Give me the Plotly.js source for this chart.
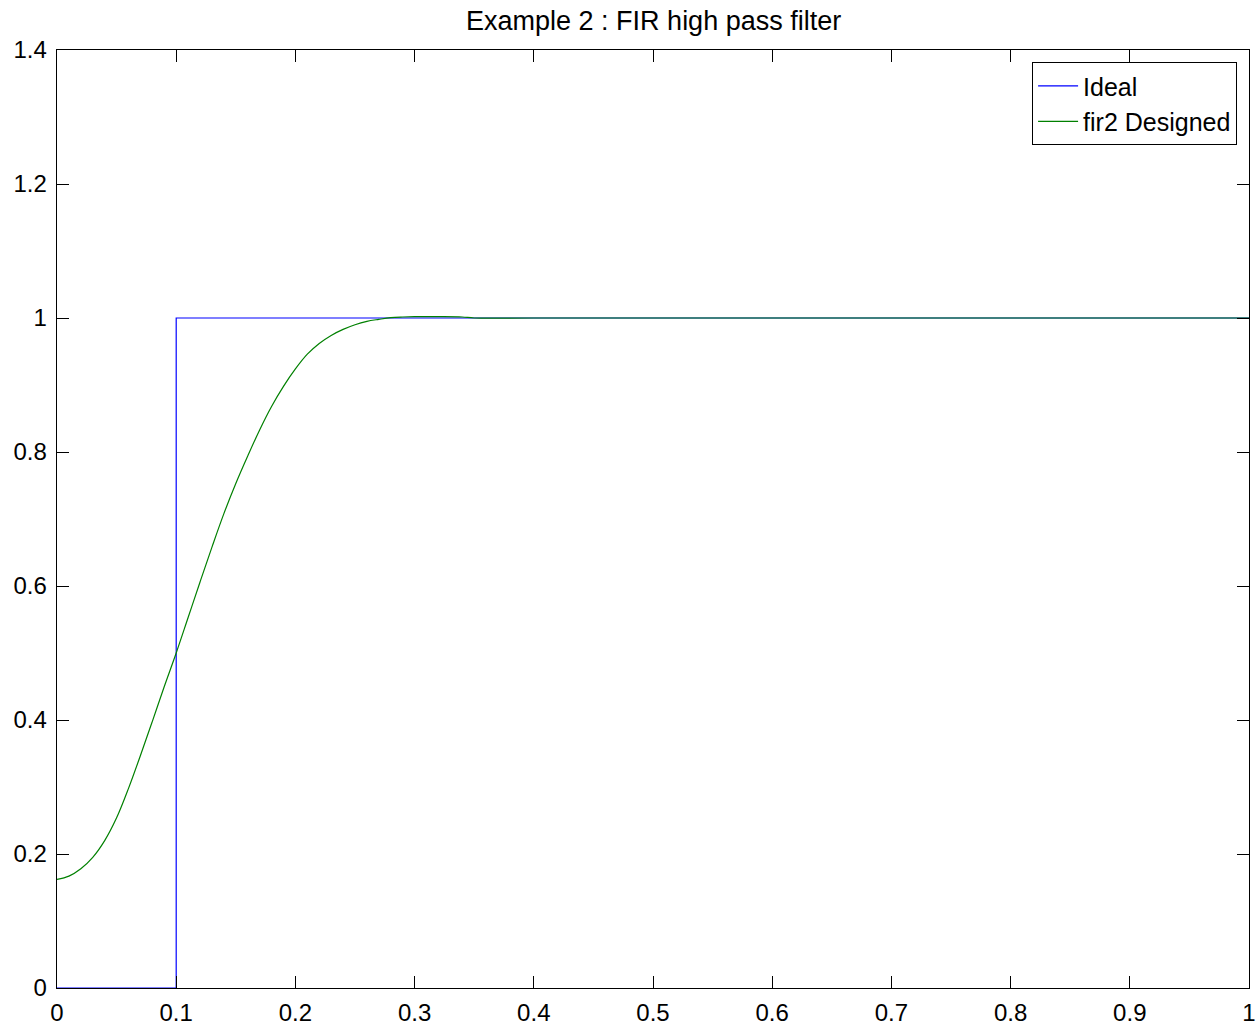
<!DOCTYPE html>
<html>
<head>
<meta charset="utf-8">
<script src="https://cdn.plot.ly/plotly-3.0.1.min.js"></script>
<style>html,body{margin:0;padding:0;background:#fff}#chart{width:1257px;height:1027px}</style>
</head>
<body>
<div id="chart"></div>
<script>
// Ideal high-pass response
const idealFreq = [0, 0.1, 0.1, 1];
const idealMag  = [0, 0, 1, 1];

// fir2 designed response
const firFreq = [0, 0.01, 0.02, 0.03, 0.04, 0.05, 0.06, 0.07, 0.08, 0.09, 0.10,
                 0.11, 0.12, 0.13, 0.14, 0.15, 0.16, 0.17, 0.18, 0.19, 0.20,
                 0.21, 0.22, 0.23, 0.24, 0.25, 0.26, 0.27, 0.28, 0.29, 0.30,
                 0.32, 0.34, 0.35, 0.40, 0.50, 0.60, 0.70, 0.80, 0.90, 1.0];
const firMag  = [0.162, 0.167, 0.178, 0.195, 0.220, 0.254, 0.298, 0.347, 0.398, 0.450, 0.500,
                 0.553, 0.606, 0.658, 0.708, 0.753, 0.794, 0.833, 0.868, 0.898, 0.924,
                 0.946, 0.962, 0.974, 0.983, 0.990, 0.995, 0.998, 1.0005, 1.0015, 1.002,
                 1.002, 1.0015, 1.0, 1.0, 1.0, 1.0, 1.0, 1.0, 1.0, 1.0];

const xTickVals = [0, 0.1, 0.2, 0.3, 0.4, 0.5, 0.6, 0.7, 0.8, 0.9, 1];
const xTickText = ["0", "0.1", "0.2", "0.3", "0.4", "0.5", "0.6", "0.7", "0.8", "0.9", "1"];
const yTickVals = [0, 0.2, 0.4, 0.6, 0.8, 1, 1.2, 1.4];
const yTickText = ["0", "0.2", "0.4", "0.6", "0.8", "1", "1.2", "1.4"];

const FONT = "Liberation Sans, Arial, Helvetica, sans-serif";

const traces = [
  {x: idealFreq, y: idealMag, type: "scatter", mode: "lines", name: "Ideal",
   line: {color: "#0000ff", width: 1.2}},
  {x: firFreq, y: firMag, type: "scatter", mode: "lines", name: "fir2 Designed",
   line: {color: "#008000", width: 1.2, shape: "spline", smoothing: 1}}
];

const axisCommon = {
  showline: true, linecolor: "#000", linewidth: 1.3, mirror: "ticks",
  ticks: "inside", ticklen: 12, tickwidth: 1, tickcolor: "#000",
  showgrid: false, zeroline: false, layer: "above traces",
  tickfont: {family: FONT, size: 24, color: "#000"}
};

const layout = {
  width: 1257, height: 1027,
  paper_bgcolor: "#fff", plot_bgcolor: "#fff",
  margin: {l: 57, r: 8, t: 50, b: 39, pad: 0},
  title: {text: "Example 2 : FIR high pass filter",
          font: {family: FONT, size: 27, color: "#000"},
          x: 0.52, xanchor: "center", y: 1 - 21/1027, yref: "container", yanchor: "middle"},
  xaxis: Object.assign({}, axisCommon, {range: [0, 1], tickvals: xTickVals, ticktext: xTickText, ticklabelstandoff: 3}),
  yaxis: Object.assign({}, axisCommon, {range: [0, 1.4], tickvals: yTickVals, ticktext: yTickText, ticklabelstandoff: 4}),
  showlegend: true,
  legend: {x: 0.99, xanchor: "right", y: 0.987, yanchor: "top",
           bgcolor: "#fff", bordercolor: "#000", borderwidth: 1,
           font: {family: FONT, size: 25, color: "#000"},
           tracegroupgap: 0, itemwidth: 40}
};

Plotly.newPlot("chart", traces, layout, {displayModeBar: false, staticPlot: true});
</script>
</body>
</html>
